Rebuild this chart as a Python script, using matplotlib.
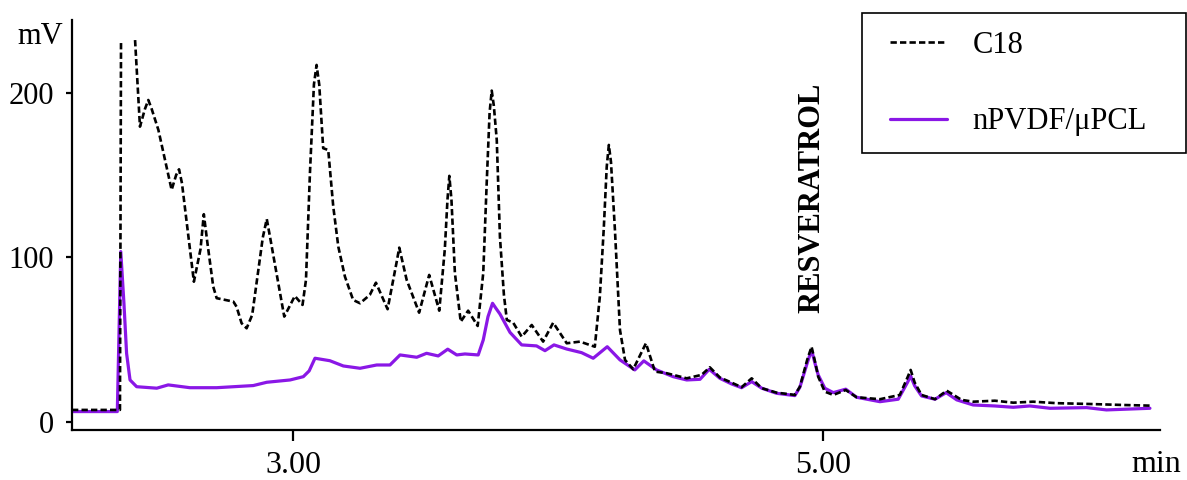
import numpy as np
import matplotlib
matplotlib.use("Agg")
import matplotlib.pyplot as plt
from matplotlib.patches import Rectangle

# ---- data (retention time in min, signal in mV); NaN = off-scale solvent front ----
c18_t = [2.165, 2.346, 2.350, np.nan, 2.403, 2.4215, 2.440, 2.453, 2.466, 2.491, 2.541, 2.558, 2.569, 2.580,
         2.625, 2.650, 2.6625, 2.675, 2.698, 2.711, 2.774, 2.786, 2.805, 2.824, 2.845, 2.885, 2.900, 2.915, 2.966, 3.006,
         3.035, 3.048, 3.063, 3.078, 3.088, 3.098, 3.107, 3.113, 3.132, 3.151, 3.170, 3.195,
         3.226, 3.252, 3.289, 3.312, 3.356, 3.390, 3.400, 3.428, 3.475, 3.513, 3.551,
         3.572, 3.582, 3.589, 3.597, 3.610, 3.632, 3.660, 3.696, 3.717, 3.730, 3.741, 3.749, 3.757, 3.768, 3.780, 3.795,
         3.806, 3.830, 3.862, 3.900, 3.943, 3.981, 4.032, 4.082, 4.138, 4.157,
         4.172, 4.183, 4.191, 4.199, 4.214, 4.233, 4.252, 4.283, 4.331, 4.365, 4.409, 4.485, 4.541,
         4.572, 4.610, 4.654, 4.692, 4.730, 4.768, 4.824, 4.893, 4.912, 4.940, 4.956,
         4.970, 4.981, 5.006, 5.038, 5.085, 5.126, 5.214, 5.289, 5.318, 5.330, 5.345, 5.371, 5.422,
         5.466, 5.522, 5.566, 5.648, 5.717, 5.792, 5.881, 6.006, 6.132, 6.233]
c18_v = [7.3, 7.3, 232, np.nan, 232, 179.4, 190.0, 195.6, 190.0, 177.4, 141.0, 150.0, 153.5, 145.0,
         85.2, 105.0, 126.2, 110.0, 82.2, 75.2, 73.1, 70.0, 60.0, 56.9, 65.0, 112.0, 123.3, 110.0, 64.0, 76.5,
         71.1, 86.3, 151.3, 205.0, 216.9, 205.0, 181.7, 166.3, 165.2, 130.8, 106.5, 88.3,
         74.1, 72.1, 77.2, 84.6, 68.5, 97.0, 105.9, 86.3, 66.4, 89.3, 67.6,
         105.0, 135.0, 149.5, 135.0, 90.5, 60.9, 67.6, 58.3, 90.5, 145.0, 188.0, 201.3, 192.0, 171.3, 112.4, 77.2,
         62.0, 60.3, 51.8, 58.9, 48.8, 60.3, 47.8, 48.8, 45.7, 76.1,
         118.0, 155.0, 168.3, 158.0, 116.6, 55.9, 37.7, 32.0, 47.8, 30.6, 29.6, 26.5, 28.6,
         33.2, 27.0, 23.9, 21.1, 26.5, 20.5, 17.8, 16.4, 21.4, 38.0, 45.7,
         36.0, 27.5, 18.4, 16.4, 19.4, 15.0, 13.8, 16.4, 27.0, 31.6, 24.0, 16.4, 13.8,
         19.0, 13.4, 12.3, 12.9, 11.7, 12.3, 11.4, 10.9, 10.3, 9.9]

pcl_t = [2.165, 2.336, 2.349, 2.361, 2.371, 2.384, 2.409, 2.485, 2.528, 2.610,
         2.711, 2.849, 2.900, 2.988, 3.038, 3.060, 3.082, 3.138, 3.189, 3.252, 3.315,
         3.365, 3.403, 3.466, 3.503, 3.547, 3.583, 3.617, 3.648, 3.698, 3.717, 3.735,
         3.752, 3.765, 3.780, 3.818, 3.862, 3.918, 3.950, 3.984, 4.032, 4.088, 4.132,
         4.185, 4.233, 4.289, 4.323, 4.371, 4.434, 4.485, 4.535, 4.570, 4.610,
         4.654, 4.692, 4.730, 4.768, 4.824, 4.893, 4.912, 4.940, 4.956, 4.970, 4.981, 5.006,
         5.038, 5.085, 5.126, 5.214, 5.283, 5.318, 5.330, 5.345, 5.371, 5.422, 5.464, 5.504,
         5.566, 5.648, 5.717, 5.780, 5.856, 5.994, 6.069, 6.233]
pcl_v = [6.3, 6.3, 103.5, 72.1, 41.7, 25.5, 21.4, 20.5, 22.5, 20.8,
         20.8, 22.1, 24.1, 25.5, 27.5, 31.0, 38.7, 37.2, 34.0, 32.6, 34.6,
         34.6, 40.7, 39.3, 41.7, 40.1, 44.2, 40.7, 41.3, 40.7, 49.8, 64.0,
         72.1, 69.0, 65.6, 54.4, 46.8, 46.2, 43.3, 46.8, 44.3, 42.1, 38.7,
         45.7, 37.7, 31.6, 37.1, 31.6, 27.5, 25.5, 25.9, 32.0, 26.5,
         23.1, 20.8, 24.5, 20.5, 17.4, 16.0, 21.1, 36.0, 43.7, 35.0, 28.6, 20.5,
         17.8, 19.9, 15.0, 12.3, 13.8, 24.0, 27.9, 22.0, 15.8, 13.8, 17.8, 13.4,
         10.3, 9.7, 8.9, 9.7, 8.3, 8.7, 7.3, 8.3]

series_labels = ["C18", "nPVDF/\u03bcPCL"]
xticks = [3.0, 5.0]
xtick_labels = ["3.00", "5.00"]
yticks = [0, 100, 200]
ytick_labels = ["0", "100", "200"]
peak_label = "RESVERATROL"
peak_time = 4.956

# ---- figure ----
plt.rcParams['font.family'] = ['Liberation Serif', 'DejaVu Serif']
W, H = 1187, 480
fig = plt.figure(figsize=(W / 100, H / 100), dpi=100)
ax = fig.add_axes([72 / W, 1 - 430 / H, (1160 - 72) / W, (430 - 20) / H])

purple = "#8a17e6"
l1, = ax.plot(c18_t, c18_v, color="black", lw=1.9, linestyle=(0, (2.4, 1.2)),
              label=series_labels[0], zorder=3, dash_joinstyle="round",
              dash_capstyle="butt")
l2, = ax.plot(pcl_t, pcl_v, color=purple, lw=2.3, label=series_labels[1], zorder=2,
              solid_joinstyle="round", solid_capstyle="round")

ax.set_xlim(2.165, 6.271)
ax.set_ylim(-4.9, 244.2)

for s in ["top", "right"]:
    ax.spines[s].set_visible(False)
for s in ["left", "bottom"]:
    ax.spines[s].set_linewidth(1.6)

ax.set_xticks(xticks)
ax.set_xticklabels(xtick_labels)
ax.set_yticks(yticks)
ax.set_yticklabels(ytick_labels)
ax.tick_params(axis="x", direction="out", length=8, width=1.6, pad=7, labelsize=23)
ax.tick_params(axis="y", direction="out", length=4, width=1.6, pad=9, labelsize=22)

fig.text(63 / W, 1 - 37 / H, "mV", ha="right", va="center", fontsize=22)
fig.text(1181 / W, 1 - 465 / H, "min", ha="right", va="center", fontsize=23)

ax.text(peak_time, 66, peak_label, rotation=90, ha="center", va="bottom",
        fontsize=22, fontweight="bold")

# legend box and entries
fig.patches.append(Rectangle((861.7 / W, 1 - 152.7 / H), (1186 - 861.7) / W, 140 / H,
                             transform=fig.transFigure, fill=False, edgecolor="black",
                             linewidth=1.2))
fig.legend(handles=[l1, l2], labels=series_labels, loc="upper left",
           bbox_to_anchor=(890 / W, 1 - 31 / H), frameon=False, fontsize=22,
           borderpad=0, borderaxespad=0, handlelength=1.86, handletextpad=0.85,
           labelspacing=1.55)

fig.savefig("out.png", dpi=100)
